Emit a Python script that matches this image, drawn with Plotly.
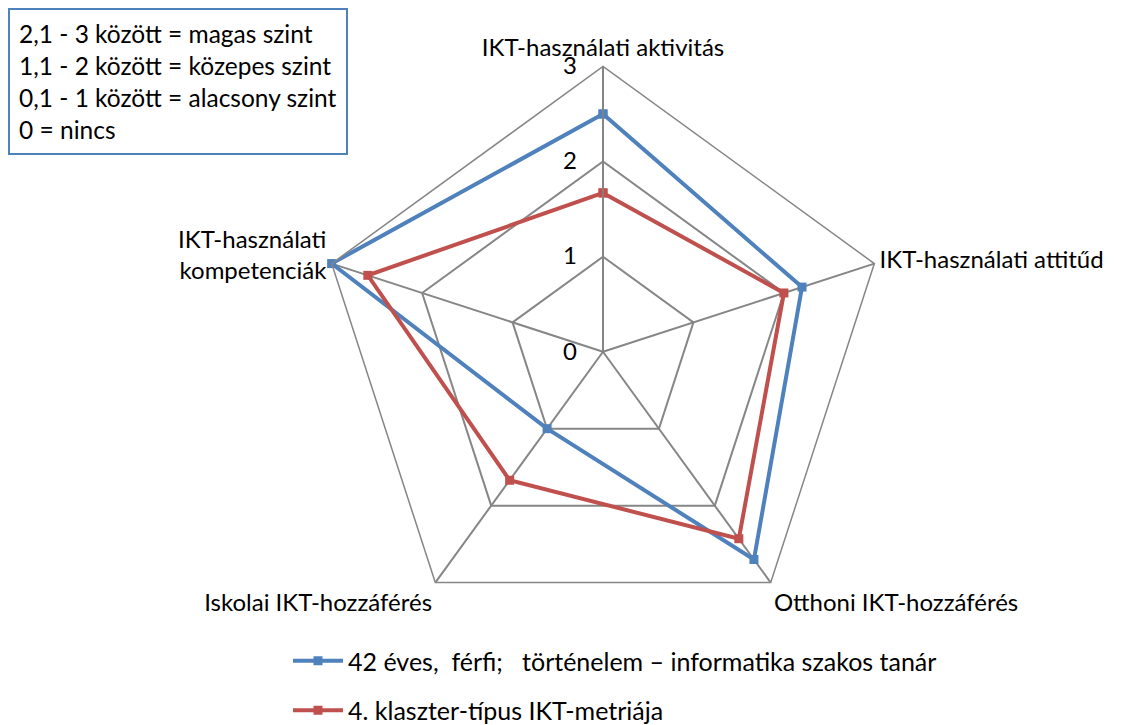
import plotly.graph_objects as go

categories = ["IKT-használati aktivitás", "IKT-használati attitűd", "Otthoni IKT-hozzáférés",
              "Iskolai IKT-hozzáférés", "IKT-használati<br>kompetenciák"]
series1_name = "42 éves,\u00a0 férfi;\u00a0\u00a0 történelem – informatika szakos tanár"
series1 = [2.5, 2.2, 2.7, 1.0, 3.0]
series2_name = "4. klaszter-típus IKT-metriája"
series2 = [1.67, 2.0, 2.43, 1.67, 2.6]
radial_ticks = [0, 1, 2, 3]
note_lines = ["2,1 - 3 között = magas szint", "1,1 - 2 között = közepes szint",
              "0,1 - 1 között = alacsony szint", "0 = nincs"]

FONT = "Lato, Calibri, Carlito, sans-serif"
BLUE = "#4F81BD"
RED = "#C0504D"

fig = go.Figure()
for name, vals, col, grp in [(series1_name, series1, BLUE, "a"), (series2_name, series2, RED, "b")]:
    fig.add_trace(go.Scatterpolar(
        r=vals + vals[:1], theta=categories + categories[:1], name=name,
        mode="lines+markers", line=dict(color=col, width=4),
        marker=dict(symbol="square", size=9, color=col), legendgroup=grp))

cx, cy, R = 595, 353, 293
W, H = 1125, 725
fig.update_layout(
    width=W, height=H,
    margin=dict(l=0, r=0, t=0, b=0),
    paper_bgcolor="white", plot_bgcolor="white",
    font=dict(family=FONT, size=24, color="black"),
    polar=dict(
        domain=dict(x=[(cx - R) / W, (cx + R) / W], y=[(H - cy - R) / H, (H - cy + R) / H]),
        gridshape="linear",
        bgcolor="white",
        angularaxis=dict(direction="clockwise", rotation=90, showline=True, linecolor="#868686",
                         linewidth=1.5, gridcolor="#868686", gridwidth=1.5, ticks="",
                         tickfont=dict(size=24, family=FONT)),
        radialaxis=dict(range=[0, 3], tickvals=radial_ticks, angle=90, tickangle=90,
                        showline=True, linecolor="#868686", linewidth=1.5,
                        gridcolor="#868686", gridwidth=1.5, ticks="outside", ticklen=17,
                        tickcolor="rgba(0,0,0,0)", side="counterclockwise",
                        tickfont=dict(size=24, family=FONT)),
    ),
    legend=dict(x=280 / W, y=1 - 647 / H, xanchor="left", yanchor="top",
                font=dict(size=25, family=FONT), tracegroupgap=14, itemwidth=50,
                bgcolor="rgba(0,0,0,0)"),
    annotations=[dict(
        x=0, y=1, xref="paper", yref="paper", xanchor="left", yanchor="top",
        text="<br>".join(note_lines), showarrow=False, align="left",
        font=dict(size=24.5, family=FONT), bordercolor=BLUE, borderwidth=2, borderpad=9,
        bgcolor="white")],
)
fig.write_html("out.html")
